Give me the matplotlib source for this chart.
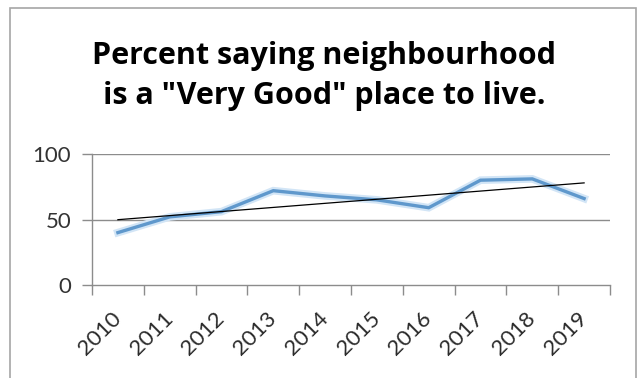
import numpy as np
import matplotlib.pyplot as plt
from matplotlib.patches import Rectangle
from matplotlib.ticker import FixedLocator
from matplotlib.transforms import ScaledTranslation

years = ["2010", "2011", "2012", "2013", "2014", "2015", "2016", "2017", "2018", "2019"]
percent_very_good = [40, 52, 56, 72, 68, 65, 59, 80, 81, 66]
y_ticks = [0, 50, 100]
title_lines = ['Percent saying neighbourhood', 'is a "Very Good" place to live.']

plt.rcParams['font.family'] = ['Lato', 'DejaVu Sans']

W, H = 638, 378
fig = plt.figure(figsize=(W / 100, H / 100), dpi=100)
fig.patch.set_facecolor('white')

# chart frame
fig.add_artist(Rectangle((10 / W, -0.01), 626 / W, 1 - 8 / H + 0.01,
                         transform=fig.transFigure, fill=False,
                         edgecolor='#a6a6a6', linewidth=1.2))

ax = fig.add_axes([92 / W, 1 - 285 / H, (610 - 92) / W, (285 - 154) / H])

x = np.arange(len(years))
ax.plot(x, percent_very_good, color='#d2e5f6', linewidth=5.5, solid_joinstyle='miter', zorder=2)
ax.plot(x, percent_very_good, color='#5f98cc', linewidth=2.4, solid_joinstyle='miter', zorder=3)

# linear trendline
slope, intercept = np.polyfit(x, percent_very_good, 1)
ax.plot(x, slope * x + intercept, color='black', linewidth=0.9, zorder=4)

ax.set_xlim(-0.5, len(years) - 0.5)
ax.set_ylim(0, 100)
ax.set_yticks(y_ticks)
ax.set_yticklabels([str(v) for v in y_ticks], fontsize=16, color='#333333')
ax.set_xticks(x)
ax.set_xticklabels(years, rotation=45, ha='right', va='center',
                   rotation_mode='anchor', fontsize=16, color='#2b2b2b')
shift = ScaledTranslation(4 / 100, 0, fig.dpi_scale_trans)
for lbl in ax.get_xticklabels():
    lbl.set_transform(lbl.get_transform() + shift)
ax.xaxis.set_minor_locator(FixedLocator(np.arange(-0.5, len(years), 1.0)))

ax.tick_params(axis='x', which='major', length=0, pad=22)
ax.tick_params(axis='x', which='minor', length=7, width=1, color='#8c8c8c', direction='out')
ax.tick_params(axis='y', length=7, width=1, color='#8c8c8c', pad=8)

for v in y_ticks[1:]:
    ax.axhline(v, color='#8c8c8c', linewidth=1, zorder=1)

for side in ['top', 'right']:
    ax.spines[side].set_visible(False)
for side in ['left', 'bottom']:
    ax.spines[side].set_color('#8c8c8c')
    ax.spines[side].set_linewidth(1)

for line, base in zip(title_lines, [64, 104]):
    fig.text(324 / W, 1 - base / H, line, ha='center', va='baseline',
             fontsize=22, fontweight='bold', color='black',
             family=['Open Sans', 'DejaVu Sans'])

fig.savefig('out.png', dpi=100, facecolor='white')
